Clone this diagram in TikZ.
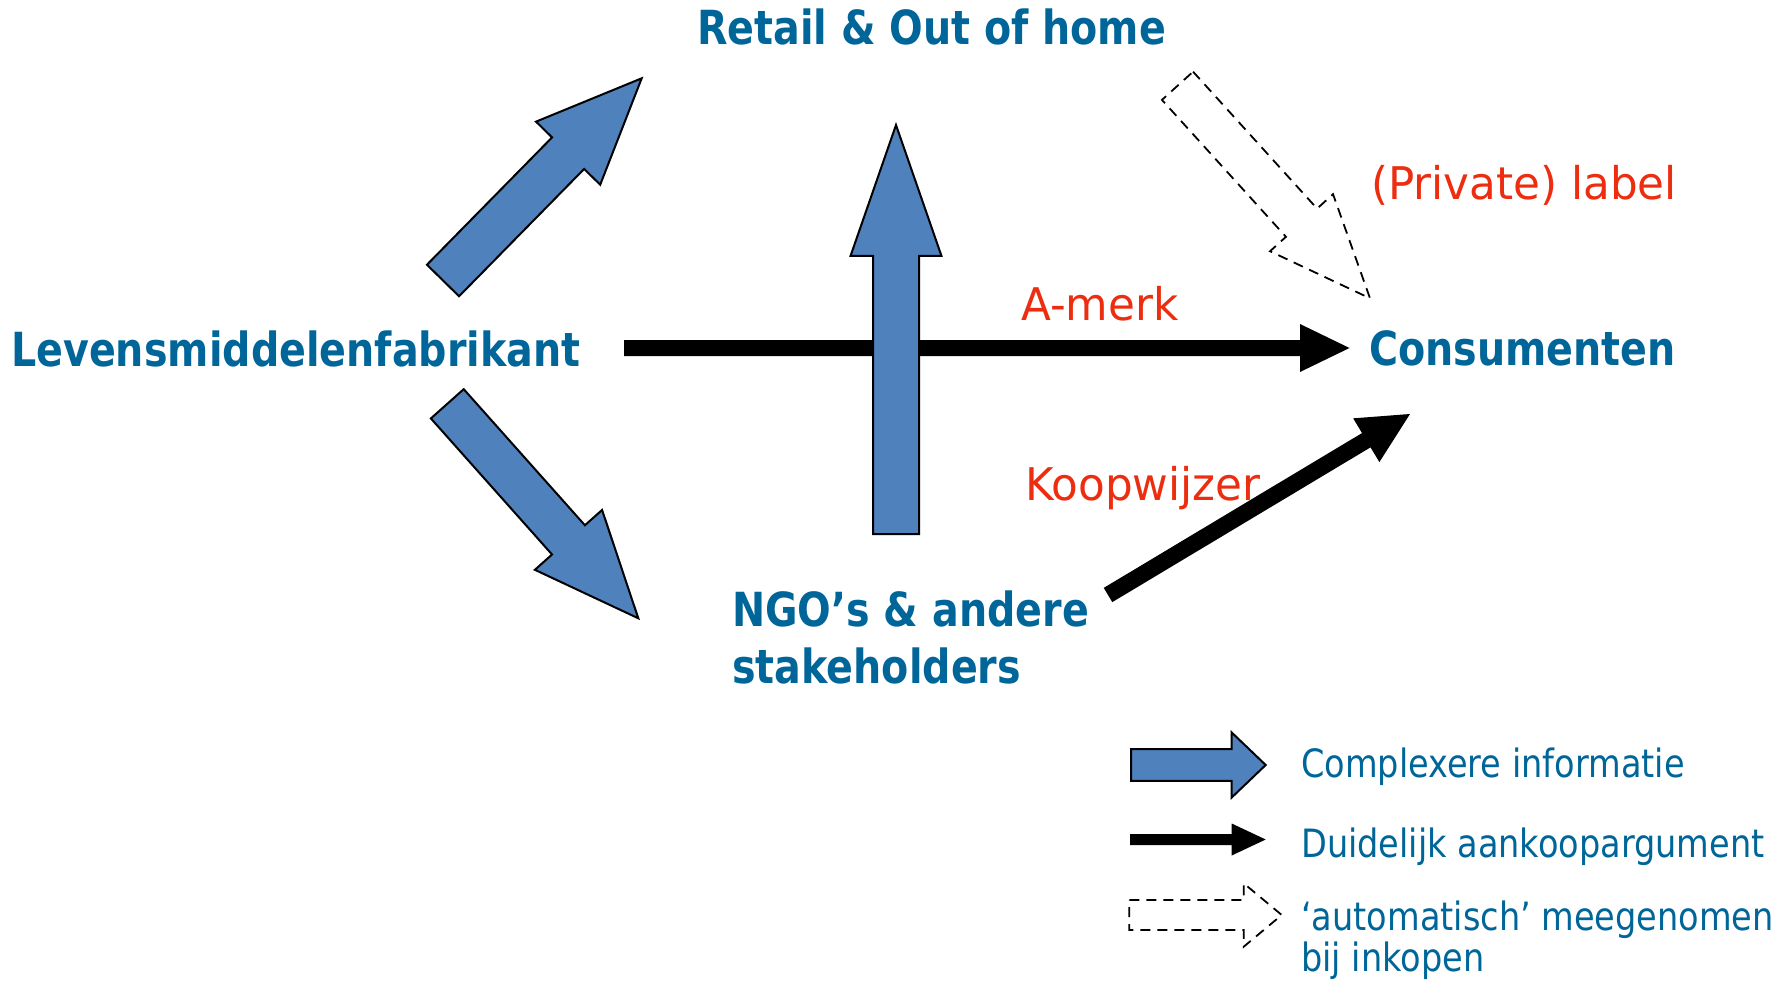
\documentclass[tikz,border=0pt]{standalone}
\usepackage{fontspec}
\newfontfamily\kopfont{DejaVu Sans}[FakeStretch=0.843]
\newfontfamily\labelfont{DejaVu Sans}[FakeStretch=0.97]
\newfontfamily\legendafont{DejaVu Sans}[FakeStretch=0.86]
\usepackage{tikz}
\usetikzlibrary{calc}
\definecolor{tekstblauw}{RGB}{0,102,153}
\definecolor{labelrood}{RGB}{236,45,15}
\definecolor{pijlblauw}{RGB}{79,129,189}
\tikzset{
    hoofdtekst/.style={font=\kopfont\fontsize{47}{56}\selectfont\bfseries, text=tekstblauw, inner sep=0pt, anchor=base west}, % blauwe kopjes
    labeltekst/.style={font=\labelfont\fontsize{45}{54}\selectfont, text=labelrood, inner sep=0pt, anchor=base west}, % rode labels
    legendatekst/.style={font=\legendafont\fontsize{39}{46}\selectfont, text=tekstblauw, inner sep=0pt, anchor=base west}, % legenda
    blauwe pijl/.style={fill=pijlblauw, draw=black, line width=2pt, line join=miter},
    zwarte pijl/.style={fill=black},
    open pijl/.style={fill=white, draw=black, line width=1.8pt, dash pattern=on 10pt off 7pt}
}
% blokpijl: [stijl]{staart}{punt}{halve schacht}{halve kop}{koplengte}
\newcommand{\blokpijl}[6][]{%
    \coordinate (bp-kop) at ($(#3)!#6!(#2)$);
    \path[#1] ($(#2)!#4!90:(#3)$) -- ($(bp-kop)!#4!90:(#3)$) -- ($(bp-kop)!#5!90:(#3)$) -- (#3)
        -- ($(bp-kop)!#5!-90:(#3)$) -- ($(bp-kop)!#4!-90:(#3)$) -- ($(#2)!#4!-90:(#3)$) -- cycle;
}

\begin{document}
\begin{tikzpicture}[x=1pt, y=-1pt]
    \useasboundingbox (0,0) rectangle (1779,981);

    \node[hoofdtekst] (retail) at (697,45) {Retail \& Out of home};
    \node[hoofdtekst] (fab) at (11,366) {Levensmiddelenfabrikant};
    \node[hoofdtekst] (cons) at (1369,365) {Consumenten};
    \node[hoofdtekst] (ngo) at (732,626) {NGO’s \& andere};
    \node[hoofdtekst] (ngo-b) at (732,683) {stakeholders};

    \node[labeltekst] (private) at (1371,200) {(Private) label};
    \node[labeltekst] (amerk) at (1021,321) {A-merk};
    \node[labeltekst] (koop) at (1025,500) {Koopwijzer};

    \coordinate (fab-boven) at (443,280.5);   \coordinate (retail-in) at (641.7,78.3);
    \coordinate (fab-onder) at (447.3,403.8); \coordinate (ngo-in) at (638.3,618.3);
    \coordinate (fab-uit) at (624,348);       \coordinate (cons-in) at (1349.5,348);
    \coordinate (ngo-boven) at (896,534);     \coordinate (retail-onder) at (896,125);
    \coordinate (retail-uit) at (1177.5,85.8); \coordinate (cons-boven) at (1370,298.3);
    \coordinate (ngo-uit) at (1108,595);      \coordinate (cons-onder) at (1410,414);

    \blokpijl[blauwe pijl]{fab-boven}{retail-in}{22.5pt}{45pt}{105pt}
    \blokpijl[blauwe pijl]{fab-onder}{ngo-in}{22pt}{45pt}{105pt}
    \blokpijl[zwarte pijl]{fab-uit}{cons-in}{8pt}{24pt}{49.5pt}
    \blokpijl[blauwe pijl]{ngo-boven}{retail-onder}{23pt}{45.5pt}{131pt}
    \blokpijl[open pijl]{retail-uit}{cons-boven}{21pt}{42.5pt}{102pt}
    \blokpijl[zwarte pijl]{ngo-uit}{cons-onder}{8.3pt}{25.5pt}{51pt}

    % legenda
    \coordinate (leg1-a) at (1131,765);    \coordinate (leg1-b) at (1265.7,765);
    \coordinate (leg2-a) at (1130,839.5);  \coordinate (leg2-b) at (1265.7,839.5);
    \coordinate (leg3-a) at (1129.3,915);  \coordinate (leg3-b) at (1281.7,915);
    \blokpijl[blauwe pijl]{leg1-a}{leg1-b}{15.8pt}{32.5pt}{34pt}
    \blokpijl[zwarte pijl]{leg2-a}{leg2-b}{5.5pt}{16pt}{34pt}
    \blokpijl[open pijl]{leg3-a}{leg3-b}{15pt}{31.7pt}{38pt}

    \node[legendatekst] (leg1) at (1301,777) {Complexere informatie};
    \node[legendatekst] (leg2) at (1301,857) {Duidelijk aankoopargument};
    \node[legendatekst] (leg3) at (1301,930) {‘automatisch’ meegenomen};
    \node[legendatekst] (leg3-b) at (1301,971) {bij inkopen};
\end{tikzpicture}
\end{document}
